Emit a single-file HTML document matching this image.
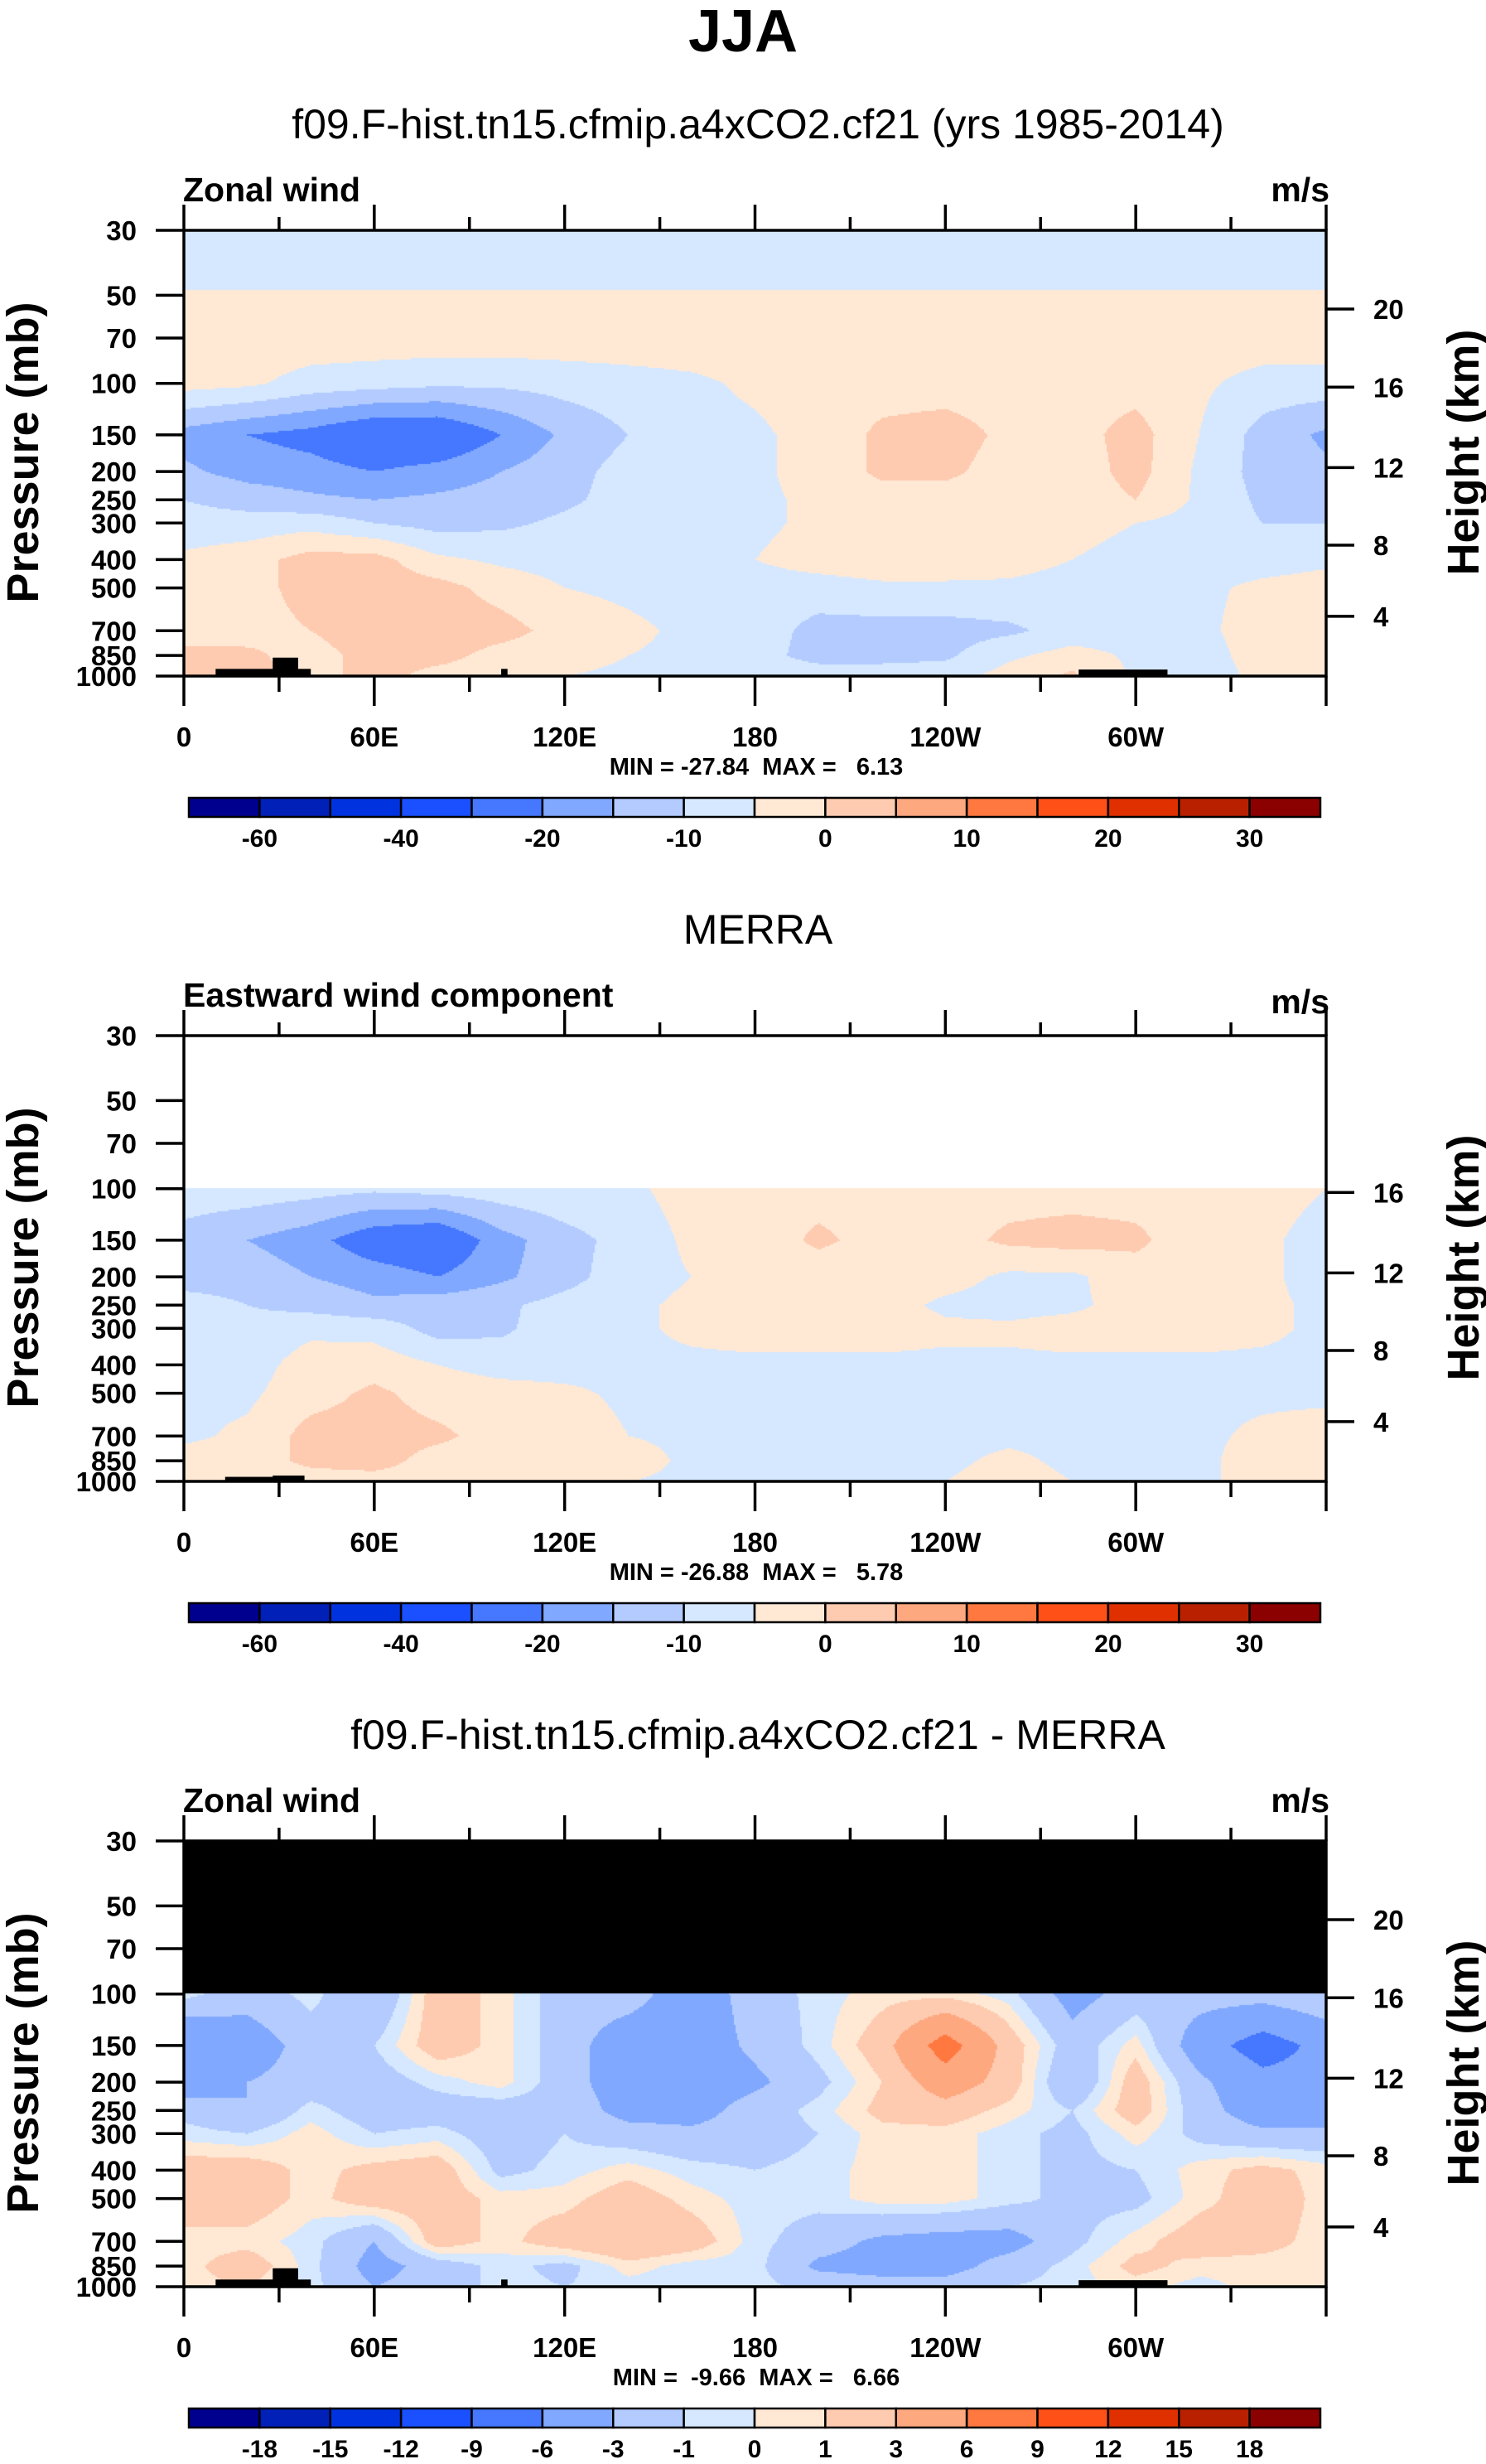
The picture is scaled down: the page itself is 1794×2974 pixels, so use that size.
<!DOCTYPE html>
<html><head><meta charset="utf-8">
<style>
html,body{margin:0;padding:0;background:#fff;}
#root{position:relative;width:1794px;height:2974px;overflow:hidden;font-family:"Liberation Sans",Arial,sans-serif;}
canvas{position:absolute;}
svg{position:absolute;left:0;top:0;}
</style></head>
<body>
<div id="root">
<canvas id="c1"></canvas>
<canvas id="c2"></canvas>
<canvas id="c3"></canvas>
<svg id="svg" width="1794" height="2974" xmlns="http://www.w3.org/2000/svg">
<text x="897" y="62" text-anchor="middle" font-size="72" font-weight="bold">JJA</text>
</svg>
</div>
<script>
// ---------- data ----------
const pLevels=[30,50,70,100,150,200,250,300,400,500,700,850,1000];
const lons=[0,20,40,60,80,100,120,140,160,180,200,220,240,260,280,300,320,340,360];
const model=[
[-7,-7,-7,-7,-7,-7,-7,-7,-7,-7,-7,-7,-7,-7,-7,-7,-7,-7,-7],
[-4.8,-4.8,-4.8,-4.8,-4.8,-4.8,-4.8,-4.8,-4.8,-4.8,-4.8,-4.8,-4.8,-4.8,-4.8,-4.8,-4.8,-4.8,-4.8],
[-2,-2,-2,-2,-2,-2,-2,-2,-2,-2,-2,-2,-2,-2,-2,-2,-2,-2,-2],
[-3,-4,-7,-8,-9,-9,-8,-7,-6,-4,-2,-2,-2,-2,-2,-2,-4,-7,-7],
[-17,-20,-22,-26,-26,-20,-14,-10,-7,-6,-3,1,2,-1,-2,2,-5,-12,-16],
[-14,-17,-18,-20,-18,-15,-12,-8,-7,-6,-3,1,1,-2,-3,2,-6,-12,-14],
[-10,-12,-14,-15,-14,-13,-11,-8,-7,-6,-4,-2,-2,-3,-3,0,-6,-11,-12],
[-8,-8,-7,-10,-12,-11,-9,-7,-7,-6,-4,-3,-2,-3,-3,-5,-7,-10,-10],
[-4,-2,2,2,-4,-6,-7,-7,-6,-5,-3,-2,-2,-3,-5,-7,-7,-7,-6],
[-3,-2,2,3,2,-2,-5,-6,-7,-7,-7,-6,-6,-6,-7,-7,-6,-4,-3],
[-3,-2,0,3,3,2,-2,-4,-6,-7,-12,-12,-12,-11,-8,-7,-6,-3,-3],
[2,1,-2,2,2,-2,-3,-5,-6,-8,-12,-12,-11,-6,-3,-6,-7,-3,-3],
[2,2,-2,2,-2,-3,-5,-6,-7,-7,-7,-7,-7,-3,1,-6,-7,-4,-3]];
const merra=[
[-7,-7,-8,-9,-8,-7,-6,-6,-3,-2,-2,-2,-2,-2,-2,-2,-2,-3,-5],
[-12,-15,-18,-24,-26,-17,-12,-8,-4,-3,1,-2,-2,1,2,1,-3,-4,-7],
[-12,-12,-15,-17,-20,-16,-12,-7,-5,-3,-3,-3,-3,-6,-6,-2,-2,-4,-7],
[-8,-10,-12,-14,-12,-11,-8,-6,-4,-3,-3,-3,-6,-7,-6,-3,-3,-4,-6],
[-7,-8,-6,-7,-12,-11,-7,-6,-4,-3,-3,-3,-4,-4,-3,-3,-3,-4,-6],
[-6,-7,-3,-2,-5,-7,-7,-6,-6,-6,-6,-6,-6,-6,-6,-6,-6,-6,-6],
[-6,-6,-2,1,-2,-3,-4,-6,-6,-6,-6,-6,-6,-6,-6,-6,-6,-6,-6],
[-6,-4,2,2,1,-2,-2,-5,-6,-6,-6,-6,-6,-6,-6,-6,-6,-4,-3],
[-3,-2,1,2,-2,-2,-2,-3,-6,-6,-6,-6,-6,-4,-6,-6,-6,-3,-2],
[-2,-2,-2,-2,-2,-3,-4,-5,-6,-6,-6,-6,-5,-3,-5,-6,-6,-3,-2]];
const diff=[
[-0.5,-2,-0.5,-3,2,0.5,-2,-2,-4.5,-2,-0.5,0.5,0.5,-0.5,-4,-2,-2,-2,-1],
[-6,-4.5,-2,-1,2,0.5,-2,-4.5,-4.5,-2.5,-0.5,2,7.5,2,-2,0.5,-4.5,-7.5,-5],
[-5,-3,-2,-2,-0.5,0.5,-2,-4.5,-4.5,-3.5,-1.5,1,4.5,2,-3,2,-2.5,-5,-5],
[-1.5,-3,-0.5,-2,-2,-2,-1.5,-4,-4,-2,-0.5,1.5,2,0.5,-1,2,-2,-4.5,-4.5],
[-0.5,-1,0.5,-1,-0.5,-2,-1,-2,-2.5,-2,-1,0.5,0.5,-0.5,-1.5,0.5,-1.5,-2.5,-2.5],
[2,2,0.5,1.5,2,-1.5,-0.5,0.5,-0.5,-1,-0.5,0.5,0.5,-0.5,-1.5,-1,0.5,1.5,0.5],
[2,2,0.5,2,2,0.5,0.5,2,0.5,-0.5,-0.5,0.5,0.5,-0.5,-1.5,-1.5,0.5,2,0.5],
[0.5,0.5,-0.5,-3,2,0.5,2,3,2,-0.5,-2,-3.5,-4,-4,-1.5,0.5,2,1.5,0.5],
[0.5,2,-0.5,-4,-2,-0.5,-1.5,0.5,-0.5,-0.5,-3.5,-4,-4,-2,-0.5,1.5,0.5,0.5,0.5],
[0.5,1,-0.5,-3,-2,-0.5,-1,-0.5,-0.5,-0.5,-1.5,-2,-2,-1,-0.5,0.5,-0.5,0.5,0.5]];
const levelsAbs=[-60,-50,-40,-30,-20,-15,-10,-5,0,5,10,15,20,25,30];
const labelsAbs=['-60','','-40','','-20','','-10','','0','','10','','20','','30'];
const levelsDiff=[-18,-15,-12,-9,-6,-3,-1,0,1,3,6,9,12,15,18];
const labelsDiff=['-18','-15','-12','-9','-6','-3','-1','0','1','3','6','9','12','15','18'];
const fillColors=['#00008f','#0020b8','#0032e0','#1a50ff','#4577ff','#80a8ff','#b3cbff','#d5e8ff','#ffe9d5','#fecbb0','#fea880','#ff7840','#ff5018','#e03000','#b82000','#8b0000'];
const xTickLon=[0,60,120,180,240,300];
const xTickLabels=['0','60E','120E','180','120W','60W'];
const heightKm=[4,8,12,16,20];
const heightP=[625,357,194,103,55.7];
const topoLon0=[10,28,100,282];
const topoLon1=[40,36,102,310];
const topoP=[945,865,945,950];
const topoMerraLon0=[13,28];
const topoMerraLon1=[38,38];
const topoMerraP=[965,955];

// ---------- layout ----------
const X0=222,X1=1601,PH=538;
const panels=[
 {top:278,canvas:'c1',rows:model,levels:levelsAbs,above:null,sub:'f09.F-hist.tn15.cfmip.a4xCO2.cf21 (yrs 1985-2014)',left:'Zonal wind',mm:'MIN = -27.84  MAX =   6.13',cbL:labelsAbs,hk:5,topo:[topoLon0,topoLon1,topoP],name:'model'},
 {top:1250,canvas:'c2',rows:merra,levels:levelsAbs,above:'#ffffff',sub:'MERRA',left:'Eastward wind component',mm:'MIN = -26.88  MAX =   5.78',cbL:labelsAbs,hk:4,topo:[topoMerraLon0,topoMerraLon1,topoMerraP],name:'merra'},
 {top:2222,canvas:'c3',rows:diff,levels:levelsDiff,above:'#000000',sub:'f09.F-hist.tn15.cfmip.a4xCO2.cf21 - MERRA',left:'Zonal wind',mm:'MIN =  -9.66  MAX =   6.66',cbL:labelsDiff,hk:5,topo:[topoLon0,topoLon1,topoP],name:'difference'}];
const L30=Math.log10(30),L1000=3;
function xOf(lon){return X0+lon/360*(X1-X0);}
function yOf(top,p){return top+(Math.log10(p)-L30)/(L1000-L30)*PH;}
const NS='http://www.w3.org/2000/svg';
const svg=document.getElementById('svg');
function mk(tag,attrs,parent){const e=document.createElementNS(NS,tag);for(const k in attrs)e.setAttribute(k,attrs[k]);(parent||svg).appendChild(e);return e;}
function colorIdx(v,lev){let i=0;while(i<lev.length&&v>=lev[i])i++;return i;}

panels.forEach((P,pi)=>{
 const T=P.top;
 const cv=document.getElementById(P.canvas);
 cv.width=X1-X0;cv.height=PH;cv.style.left=X0+'px';cv.style.top=T+'px';
 const ctx=cv.getContext('2d');
 const plev=pLevels.slice(pLevels.length-P.rows.length);
 const ys=plev.map(p=>yOf(T,p)-T);
 const S=2;
 for(let py=0;py<PH;py+=S){
  const yc=py+S/2;
  if(P.above && yc<ys[0]){ctx.fillStyle=P.above;ctx.fillRect(0,py,cv.width,S);continue;}
  let r=0;while(r<ys.length-2&&yc>ys[r+1])r++;
  let fy=(yc-ys[r])/(ys[r+1]-ys[r]);fy=Math.max(0,Math.min(1,fy));
  for(let px=0;px<cv.width;px+=S){
   const lon=(px+S/2)/cv.width*360;
   let c=Math.min(lons.length-2,Math.floor(lon/20));
   const fx=(lon-lons[c])/20;
   const a=P.rows[r][c],b=P.rows[r][c+1],d=P.rows[r+1][c],e=P.rows[r+1][c+1];
   const v=(a*(1-fx)+b*fx)*(1-fy)+(d*(1-fx)+e*fx)*fy;
   ctx.fillStyle=fillColors[colorIdx(v,P.levels)];
   ctx.fillRect(px,py,S,S);
  }
 }
 const g=mk('g',{});
 
 
 for(let i=0;i<P.topo[0].length;i++){
  const rr=mk('rect',{x:xOf(P.topo[0][i]),y:yOf(T,P.topo[2][i]),width:xOf(P.topo[1][i])-xOf(P.topo[0][i]),height:T+PH-yOf(T,P.topo[2][i]),fill:'#000'},g);
  
  
 }
 const fr=mk('rect',{x:X0,y:T,width:X1-X0,height:PH,fill:'none',stroke:'#000','stroke-width':3.5},g);
 
 
 const st=mk('text',{x:915,y:T-111,'text-anchor':'middle','font-size':50},g);st.textContent=P.sub;
 
 
 const lt=mk('text',{x:X0-1,y:T-35,'font-size':41,'font-weight':'bold'},g);lt.textContent=P.left;
 
 
 const ut=mk('text',{x:X1+4,y:T-(pi==1?27:35),'font-size':41,'font-weight':'bold','text-anchor':'end'},g);ut.textContent='m/s';
 
 
 pLevels.forEach(p=>{
  const y=yOf(T,p);
  const tk=mk('line',{x1:X0-34,x2:X0,y1:y,y2:y,stroke:'#000','stroke-width':3.5},g);
  
  
  const tl=mk('text',{x:X0-57,y:y+12,'font-size':33,'font-weight':'bold','text-anchor':'end'},g);tl.textContent=p;
  
  
 });
 const yt=mk('text',{x:0,y:0,'font-size':54,'font-weight':'bold','text-anchor':'middle',transform:'translate(46,'+(T+268)+') rotate(-90)'},g);yt.textContent='Pressure (mb)';
 
 
 for(let i=0;i<P.hk;i++){
  const y=yOf(T,heightP[i]);
  const tk=mk('line',{x1:X1,x2:X1+34,y1:y,y2:y,stroke:'#000','stroke-width':3.5},g);
  
  
  const tl=mk('text',{x:X1+57,y:y+12,'font-size':33,'font-weight':'bold'},g);tl.textContent=heightKm[i];
  
  
 }
 const ht=mk('text',{x:0,y:0,'font-size':54,'font-weight':'bold','text-anchor':'middle',transform:'translate(1785,'+(T+268)+') rotate(-90)'},g);ht.textContent='Height (km)';
 
 
 for(let lon=0;lon<=360;lon+=30){
  const x=xOf(lon),maj=lon%60==0;
  const t1=mk('line',{x1:x,x2:x,y1:T+PH,y2:T+PH+(maj?36:19),stroke:'#000','stroke-width':3.5},g);
  
  
  const t2=mk('line',{x1:x,x2:x,y1:T,y2:T-(maj?31:16),stroke:'#000','stroke-width':3.5},g);
  
  
 }
 xTickLon.forEach((lon,i)=>{
  const tl=mk('text',{x:xOf(lon),y:T+PH+85,'font-size':33,'font-weight':'bold','text-anchor':'middle'},g);tl.textContent=xTickLabels[i];
  
  
 });
 const mm=mk('text',{x:913,y:T+PH+119,'font-size':29,'font-weight':'bold','text-anchor':'middle',style:'white-space:pre'},g);mm.textContent=P.mm;
 
 
 const cbT=T+685,cbX0=228,cbX1=1594,bw=(cbX1-cbX0)/16;
 const cb=mk('g',{},g);
 
 
 fillColors.forEach((c,i)=>{
  const r=mk('rect',{x:cbX0+i*bw,y:cbT,width:bw,height:23,fill:c,stroke:'#000','stroke-width':2.5},cb);
  
  
 });
 P.cbL.forEach((s,i)=>{
  if(!s)return;
  const t=mk('text',{x:cbX0+(i+1)*bw,y:cbT+59,'font-size':30,'font-weight':'bold','text-anchor':'middle'},cb);t.textContent=s;
  
  
 });
});
</script>
</body></html>
